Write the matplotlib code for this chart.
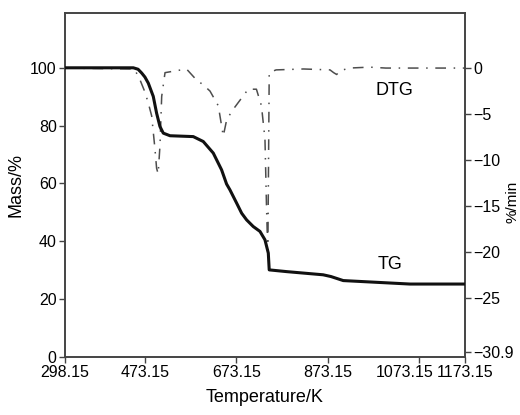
import matplotlib.pyplot as plt
import matplotlib.transforms as mtransforms

plt.rcParams['font.family'] = ['Liberation Sans', 'DejaVu Sans']

# TG curve (temperature in K, mass in %)
tg_temp = [298.15, 447.6, 458, 465.9, 473, 480.4, 491.3, 498.6, 505.9, 513.2, 527.9,
           578.8, 600.7, 622.6, 640.8, 651.7, 659, 673.7, 684.7, 695.5, 710, 724.8,
           735.7, 743, 745, 783, 863, 880, 907, 980, 1053, 1173.15]
tg_mass = [100, 100, 99.5, 98.2, 96.8, 94.7, 90.1, 84.3, 79.7, 77.4, 76.5,
           76.2, 74.5, 70.5, 64.7, 59.8, 57.8, 53.2, 49.7, 47.4, 45.1, 43.4,
           40.5, 35.9, 30.1, 29.5, 28.4, 27.8, 26.4, 25.8, 25.2, 25.2]

# DTG curve (temperature in K, rate in %/min)
dtg_temp = [298.15, 450, 462, 473, 480.4, 487.8, 495, 498.6, 502, 506, 509.7, 517,
            564, 586, 600, 615.4, 633.6, 644.5, 652, 666, 699, 717, 728, 735.7, 739,
            742, 745, 760, 820, 878, 886, 892.6, 900, 920, 965, 1000, 1173.15]
dtg_rate = [0, -0.1, -1.25, -2.6, -3.8, -5.2, -8.8, -10.9, -11.5, -8.4, -3.1, -0.5,
            -0.1, -1.3, -1.8, -2.5, -4.1, -7.4, -5.6, -4.5, -2.3, -2.3, -4.1, -7.7, -14.9,
            -20.3, -0.5, -0.2, -0.1, -0.2, -0.5, -0.7, -0.3, 0, 0.1, 0, 0]

xticks = [298.15, 473.15, 673.15, 873.15, 1073.15, 1173.15]
left_ticks = [0, 20, 40, 60, 80, 100]
right_ticks = [0, -5, -10, -15, -20, -25, -30.9]

fig = plt.figure(figsize=(5.2, 4.15), dpi=100)
ax = fig.add_axes([0.125, 0.14, 0.769, 0.829])
ax2 = ax.twinx()

ax.plot(tg_temp, tg_mass, color='#111111', lw=2.2, zorder=3)
ax2.plot(dtg_temp, dtg_rate, color='#4d4d4d', lw=1.1, linestyle=(0, (7, 5, 1, 5)))

ax.set_xlim(298.15, 1173.15)
ax.set_ylim(0, 119)
ax2.set_ylim(-31.4, 6.0)
ax.set_zorder(ax2.get_zorder() + 1)
ax.patch.set_visible(False)

ax.set_xticks(xticks)
ax.set_xticklabels([f'{t:.2f}' for t in xticks])
ax.set_yticks(left_ticks)
ax2.set_yticks(right_ticks)
ax2.set_yticklabels(['0', '\u22125', '\u221210', '\u221215', '\u221220', '\u221225', '\u221230.9'])

for a in (ax, ax2):
    for s in a.spines.values():
        s.set_color('#444444')
        s.set_linewidth(1.2)
    a.tick_params(labelsize=11.5, length=4, width=1.0, color='#444444', pad=2)

# nudge 1073.15 label left so it doesn't run into 1173.15
lbl = ax.get_xticklabels()[4]
lbl.set_transform(lbl.get_transform() + mtransforms.ScaledTranslation(-0.15, 0, fig.dpi_scale_trans))

ax.set_xlabel('Temperature/K', fontsize=13, labelpad=6)
ax.set_ylabel('Mass/%', fontsize=13, labelpad=4)
ax2.set_ylabel('%/min', fontsize=11)
ax2.yaxis.set_label_coords(1.102, 0.45)

ax.text(1020, 92, 'DTG', fontsize=13, ha='center', va='center')
ax.text(1009, 31.8, 'TG', fontsize=13, ha='center', va='center')

fig.savefig('out.png', dpi=100)
